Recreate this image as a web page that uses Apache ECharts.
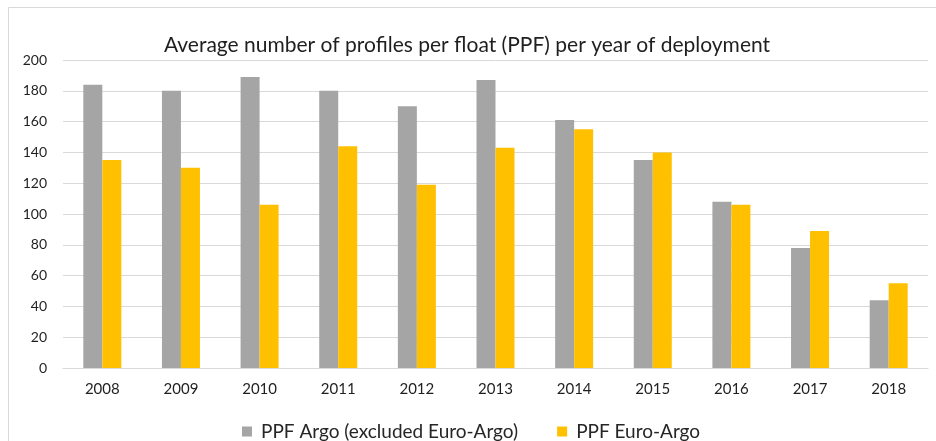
<!DOCTYPE html>
<html>
<head>
<meta charset="utf-8">
<script src="https://cdn.jsdelivr.net/npm/echarts@6/dist/echarts.min.js"></script>
<style>
  html, body { margin: 0; padding: 0; background: #fff; }
  #main { width: 936px; height: 441px; }
</style>
</head>
<body>
<div id="main"></div>
<script>
// data
const years = ['2008', '2009', '2010', '2011', '2012', '2013', '2014', '2015', '2016', '2017', '2018'];
const ppfArgo = [184, 180, 189, 180, 170, 187, 161, 135, 108, 78, 44];
const ppfEuroArgo = [135, 130, 106, 144, 119, 143, 155, 140, 106, 89, 55];

const myChart = echarts.init(document.getElementById('main'));
const font = 'Lato, Liberation Sans, sans-serif';

myChart.setOption({
  animation: false,
  textStyle: { fontFamily: font },
  title: {
    text: 'Average number of profiles per float (PPF) per year of deployment',
    left: 462,
    textAlign: 'center',
    top: 30,
    textStyle: { fontSize: 21, fontWeight: 'normal', color: '#1f1f1f', fontFamily: font }
  },
  // light frame round the chart
  graphic: [{
    type: 'rect',
    shape: { x: 8.5, y: 7.5, width: 940, height: 440 },
    style: { fill: 'none', stroke: '#d9d9d9', lineWidth: 1 },
    silent: true
  }],
  grid: { left: 63, right: 8, top: 60, bottom: 73 },
  legend: {
    left: 237,
    top: 417,
    itemWidth: 10,
    itemHeight: 10,
    itemGap: 39,
    icon: 'rect',
    textStyle: { fontSize: 19, color: '#262626', fontFamily: font, padding: [0, 0, 0, 4] },
    data: ['PPF Argo (excluded Euro-Argo)', 'PPF Euro-Argo']
  },
  xAxis: {
    type: 'category',
    data: years,
    axisLine: { lineStyle: { color: '#d9d9d9' } },
    axisTick: { show: false },
    axisLabel: { color: '#1f1f1f', fontSize: 15, margin: 14 }
  },
  yAxis: {
    type: 'value',
    min: 0,
    max: 200,
    interval: 20,
    axisLine: { show: false },
    axisTick: { show: false },
    axisLabel: { color: '#1f1f1f', fontSize: 14, margin: 16 },
    splitLine: { lineStyle: { color: '#d9d9d9' } }
  },
  series: [
    {
      name: 'PPF Argo (excluded Euro-Argo)',
      type: 'bar',
      data: ppfArgo,
      barWidth: 19,
      barGap: '0%',
      itemStyle: { color: '#a5a5a5' }
    },
    {
      name: 'PPF Euro-Argo',
      type: 'bar',
      data: ppfEuroArgo,
      barWidth: 19,
      itemStyle: { color: '#ffc000' }
    }
  ]
});
</script>
</body>
</html>
